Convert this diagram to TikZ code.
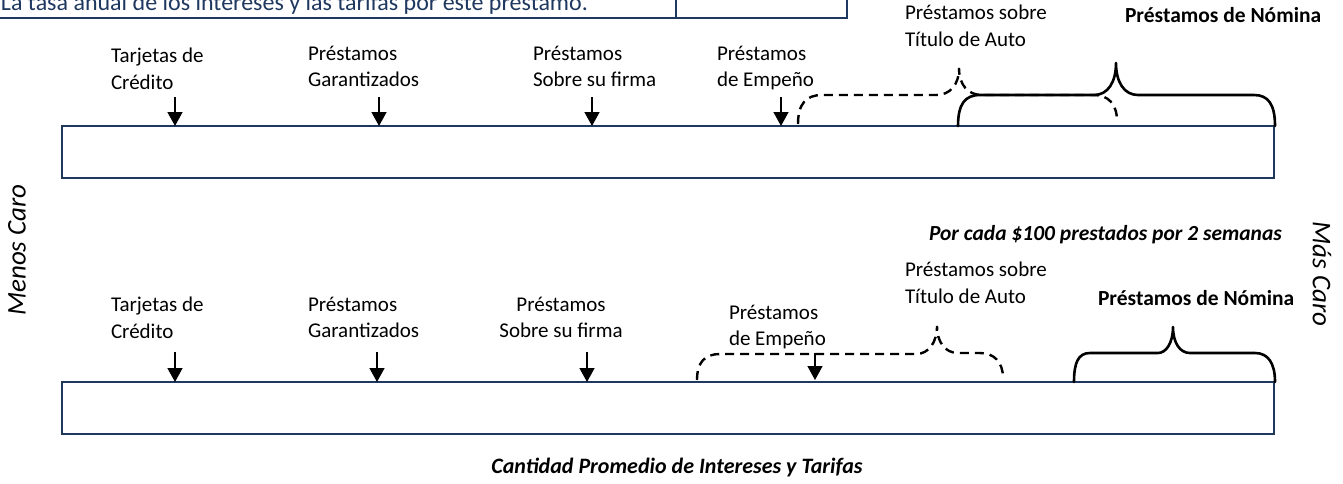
\documentclass[tikz,border=0pt]{standalone}
\usepackage{fontspec}
\setmainfont{Carlito}
\usetikzlibrary{arrows.meta}
\definecolor{navy}{RGB}{31,56,96}
\begin{document}
\begin{tikzpicture}[x=1pt,y=-1pt,
  every node/.style={inner sep=0pt, outer sep=0pt},
  lbl/.style={font=\fontsize{21}{26.5}\selectfont, align=left, anchor=north west},
  clbl/.style={font=\fontsize{21}{26.5}\selectfont, align=center, anchor=north},
  bold/.style={font=\fontsize{21.5}{26}\selectfont\bfseries, anchor=north west},
  side/.style={font=\fontsize{27}{30}\selectfont\itshape},
  bar/.style={draw=navy, line width=2pt, minimum width=1212pt, minimum height=52pt, anchor=north west},
  arr/.style={line width=1.4pt, -{Triangle[width=15pt,length=14pt]}},
  brace/.style={line width=2.6pt, line cap=round, line join=round},
  dbrace/.style={line width=2.4pt, dash pattern=on 9pt off 6pt}]
\useasboundingbox (0,0) rectangle (1343,483);
\clip (0,0) rectangle (1343,483);

% partial table at top
\node[anchor=base west, text=navy, font=\fontsize{24}{28}\selectfont] (tasa) at (1,10) {La tasa anual de los intereses y las tarifas por este préstamo.};
\coordinate (t0) at (0,18);
\coordinate (t1) at (676,18);
\coordinate (t2) at (847,18);
\draw[navy, line width=2pt] (t0) -- (t2) -- (t2 |- 0,0);
\draw[navy, line width=2pt] (t1) -- (t1 |- 0,0);

% ===== top scale =====
\node[bar] (bar1) at (62,126) {};
\node[lbl] (tc1) at (111,48) {Tarjetas de\\Crédito};
\node[lbl] (pg1) at (308,46) {Préstamos\\Garantizados};
\node[lbl] (ps1) at (533,46) {Préstamos\\Sobre su firma};
\node[lbl] (pe1) at (717,46) {Préstamos\\de Empeño};
\node[lbl] (pa1) at (905,5) {Préstamos sobre\\Título de Auto};
\node[bold] (pn1) at (1125,7) {Préstamos de Nómina};

\coordinate (a11) at (175,97);
\coordinate (a12) at (379,97);
\coordinate (a13) at (592,97);
\coordinate (a14) at (781,97);
\foreach \c in {a11,a12,a13,a14} \draw[arr] (\c) -- (\c |- bar1.north);

% dashed brace (auto title) top
\coordinate (dL1) at (798,124);
\coordinate (dT1) at (959,68);
\coordinate (dR1) at (1117,121);
\draw[dbrace] (dL1) .. controls (798,104) and (806,95) .. (822,95) -- (936,95)
  .. controls (950,95) and (959,85) .. (dT1)
  .. controls (959,85) and (968,95) .. (982,95) -- (1094,95)
  .. controls (1108,95) and (1117,104) .. (dR1);
% solid brace (payday) top
\coordinate (sL1) at (958,126);
\coordinate (sT1) at (1116,63);
\coordinate (sR1) at (1275,126);
\draw[brace] (sL1) .. controls (958,104) and (965,95) .. (980,95) -- (1094,95)
  .. controls (1108,95) and (1116,82) .. (sT1)
  .. controls (1116,82) and (1124,95) .. (1138,95) -- (1254,95)
  .. controls (1268,95) and (1275,104) .. (sR1);

% side labels
\node[rotate=90, side] (menos) at (17,250) {Menos Caro};
\node[rotate=-90, side] (mas) at (1322,274) {Más Caro};

% ===== bottom scale =====
\node[bar] (bar2) at (62,382) {};
\node[font=\fontsize{21.5}{26}\selectfont\bfseries\itshape, anchor=north west] (porcada) at (929,225) {Por cada \$100 prestados por 2 semanas};
\node[lbl] (pa2) at (905,262) {Préstamos sobre\\Título de Auto};
\node[bold] (pn2) at (1098,290) {Préstamos de Nómina};
\node[lbl] (tc2) at (111,297) {Tarjetas de\\Crédito};
\node[lbl] (pg2) at (308,297) {Préstamos\\Garantizados};
\node[clbl] (ps2) at (561,297) {Préstamos\\Sobre su firma};
\node[lbl] (pe2) at (729,305) {Préstamos\\de Empeño};

\coordinate (a21) at (175,352);
\coordinate (a22) at (377,352);
\coordinate (a23) at (587,352);
\coordinate (a24) at (815,353);
\foreach \c in {a21,a22,a23} \draw[arr] (\c) -- (\c |- bar2.north);
\draw[arr] (a24) -- (815,380);

% dashed brace (pawn) bottom
\coordinate (dL2) at (697,380);
\coordinate (dT2) at (937,326);
\coordinate (dR2) at (1003,378);
\draw[dbrace] (dL2) .. controls (697,362) and (705,354) .. (720,354) -- (916,354)
  .. controls (929,354) and (937,342) .. (dT2)
  .. controls (937,342) and (945,353) .. (958,353) -- (980,353)
  .. controls (994,353) and (1003,362) .. (dR2);
% solid brace (payday) bottom
\coordinate (sL2) at (1074,382);
\coordinate (sT2) at (1173,327);
\coordinate (sR2) at (1275,382);
\draw[brace] (sL2) .. controls (1074,363) and (1078,353) .. (1090,353) -- (1158,353)
  .. controls (1166,353) and (1173,343) .. (sT2)
  .. controls (1173,343) and (1180,353) .. (1190,353) -- (1255,353)
  .. controls (1268,353) and (1275,363) .. (sR2);

\node[font=\fontsize{22}{26}\selectfont\bfseries\itshape, anchor=north] (cant) at (677,458) {Cantidad Promedio de Intereses y Tarifas};
\end{tikzpicture}
\end{document}
